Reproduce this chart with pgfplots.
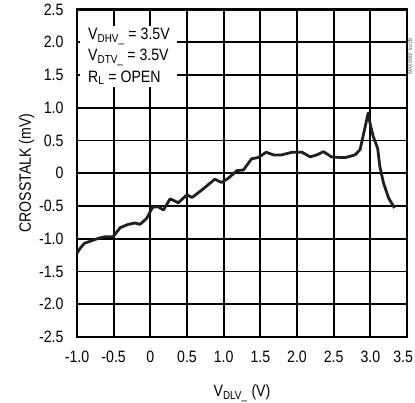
\documentclass[border=0pt]{standalone}
\usepackage{fontspec}
\setmainfont[FakeStretch=0.86]{Liberation Sans}
\usepackage{pgfplots}
\pgfplotsset{compat=1.18}
\definecolor{curve}{HTML}{231F20}
\begin{document}
\begin{tikzpicture}
\path[use as bounding box] (-77bp,-66bp) rectangle (338bp,337bp);
\begin{axis}[
  scale only axis,
  width=330bp, height=327.5bp,
  xmin=-1, xmax=3.5, ymin=-2.5, ymax=2.5,
  xtick={-1,-0.5,0,0.5,1,1.5,2,2.5,3,3.5},
  ytick={-2.5,-2,-1.5,-1,-0.5,0,0.5,1,1.5,2,2.5},
  xticklabels={-1.0,-0.5,0,0.5,1.0,1.5,2.0,2.5,3.0,\makebox[0pt][r]{3.5\hspace{-6bp}}},
  yticklabels={-2.5,-2.0,-1.5,-1.0,-0.5,0,0.5,1.0,1.5,2.0,2.5},
  major tick length=0pt,
  grid=major,
  grid style={draw=black, line width=1.7bp, opacity=1},
  axis line style={black, line width=2.6bp},
  tick label style={font=\fontsize{16.5}{18}\selectfont},
  xticklabel style={yshift=-11bp},
  yticklabel style={xshift=-10bp},
  xlabel={V\textsubscript{DLV\_} (V)},
  ylabel={CROSSTALK (mV)},
  label style={font=\fontsize{16.5}{18}\selectfont},
  xlabel style={yshift=-15bp},
  ylabel style={yshift=-2bp},
  clip=false,
]
\addplot[curve, line width=2.8bp, line join=round] coordinates {
(-1.0,-1.22) (-0.96,-1.15) (-0.9,-1.07) (-0.8,-1.03) (-0.7,-0.99) (-0.62,-0.97)
(-0.51,-0.97) (-0.41,-0.83) (-0.3,-0.78) (-0.21,-0.76) (-0.14,-0.78) (-0.05,-0.69)
(0.03,-0.52) (0.1,-0.51) (0.18,-0.56) (0.27,-0.39) (0.38,-0.45) (0.50,-0.33)
(0.57,-0.37) (0.72,-0.24) (0.88,-0.09) (0.97,-0.14) (1.06,-0.08) (1.18,0.04)
(1.27,0.05) (1.38,0.22) (1.47,0.24) (1.58,0.32) (1.68,0.28) (1.79,0.28)
(1.93,0.32) (2.07,0.32) (2.18,0.25) (2.27,0.28) (2.36,0.33) (2.47,0.25)
(2.59,0.24) (2.66,0.24) (2.79,0.28) (2.86,0.36) (2.89,0.51) (2.93,0.71)
(2.97,0.92) (3.0,0.74) (3.04,0.56) (3.1,0.38) (3.13,0.10) (3.18,-0.15)
(3.25,-0.38) (3.33,-0.53)
};
\node[anchor=north west, fill=white, inner xsep=6bp, inner ysep=2bp, align=left,
  font=\fontsize{16.5}{21.5}\selectfont, minimum width=97bp] at (axis cs:-0.955,2.25)
  {V\textsubscript{DHV\_} = 3.5V\\V\textsubscript{DTV\_} = 3.5V\\R\textsubscript{L} = OPEN};
\end{axis}
\node[rotate=90, anchor=west, font=\fontsize{6}{7}\selectfont, text=black!60, inner sep=0pt]
  at (333bp,262bp) {MAX9967 toc09};
\end{tikzpicture}
\end{document}
